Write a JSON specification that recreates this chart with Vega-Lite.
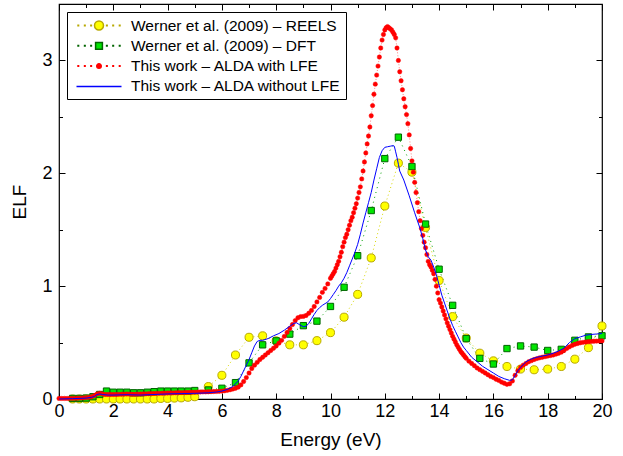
{
  "$schema": "https://vega.github.io/schema/vega-lite/v6.json",
  "width": 543,
  "height": 395,
  "autosize": {"type": "none"},
  "padding": {"left": 59, "top": 4, "right": 21, "bottom": 57},
  "config": {
    "font": "Liberation Sans",
    "view": {"stroke": "#000000", "strokeWidth": 1.2},
    "axis": {"domain": false, "grid": false, "tickColor": "#000000", "labelColor": "#000000", "titleColor": "#000000", "labelFontSize": 18, "titleFontSize": 19, "titleFontWeight": "normal", "tickWidth": 1, "labelFlush": false, "labelOverlap": false}
  },
  "datasets": {
    "reels": [
      {"E":0.5,"v":0.0},{"E":0.75,"v":0.0},{"E":1.0,"v":0.0},{"E":1.25,"v":0.0},{"E":1.5,"v":0.0},{"E":1.75,"v":0.0},{"E":2.0,"v":0.0},{"E":2.25,"v":0.0},{"E":2.5,"v":0.0},{"E":2.75,"v":0.0},{"E":3.0,"v":0.0},{"E":3.25,"v":0.0},{"E":3.5,"v":0.0},{"E":3.75,"v":0.005},{"E":4.0,"v":0.005},{"E":4.25,"v":0.008},{"E":4.5,"v":0.01},{"E":4.75,"v":0.015},{"E":5.0,"v":0.02},
      {"E":5.5,"v":0.11},{"E":6.0,"v":0.21},{"E":6.5,"v":0.39},{"E":7.0,"v":0.547},{"E":7.5,"v":0.56},{"E":8.0,"v":0.515},{"E":8.5,"v":0.48},{"E":9.0,"v":0.48},{"E":9.5,"v":0.517},{"E":10.0,"v":0.588},{"E":10.5,"v":0.725},{"E":11.0,"v":0.927},{"E":11.5,"v":1.25},{"E":12.0,"v":1.71},{"E":12.5,"v":2.09},{"E":13.0,"v":2.01},{"E":13.5,"v":1.52},{"E":14.0,"v":1.05},{"E":14.5,"v":0.73},{"E":15.0,"v":0.54},{"E":15.5,"v":0.406},{"E":16.0,"v":0.338},{"E":16.5,"v":0.288},{"E":17.0,"v":0.265},{"E":17.5,"v":0.259},{"E":18.0,"v":0.265},{"E":18.5,"v":0.288},{"E":19.0,"v":0.353},{"E":19.5,"v":0.455},{"E":20.0,"v":0.647}
    ],
    "dft": [
      {"E":0.5,"v":0.005},{"E":0.75,"v":0.005},{"E":1.0,"v":0.008},{"E":1.25,"v":0.02},{"E":1.5,"v":0.04},{"E":1.75,"v":0.07},{"E":2.0,"v":0.06},{"E":2.25,"v":0.06},{"E":2.5,"v":0.06},{"E":2.75,"v":0.055},{"E":3.0,"v":0.055},{"E":3.25,"v":0.06},{"E":3.5,"v":0.065},{"E":3.75,"v":0.07},{"E":4.0,"v":0.07},{"E":4.25,"v":0.07},{"E":4.5,"v":0.07},{"E":4.75,"v":0.07},{"E":5.0,"v":0.075},
      {"E":5.5,"v":0.08},{"E":6.0,"v":0.095},{"E":6.5,"v":0.145},{"E":7.0,"v":0.32},{"E":7.5,"v":0.48},{"E":8.0,"v":0.515},{"E":8.5,"v":0.575},{"E":9.0,"v":0.65},{"E":9.5,"v":0.69},{"E":10.0,"v":0.82},{"E":10.5,"v":0.99},{"E":11.0,"v":1.27},{"E":11.5,"v":1.67},{"E":12.0,"v":2.13},{"E":12.5,"v":2.32},{"E":13.0,"v":2.06},{"E":13.5,"v":1.55},{"E":14.0,"v":1.15},{"E":14.5,"v":0.83},{"E":15.0,"v":0.535},{"E":15.5,"v":0.36},{"E":16.0,"v":0.31},{"E":16.5,"v":0.447},{"E":17.0,"v":0.47},{"E":17.5,"v":0.46},{"E":18.0,"v":0.43},{"E":18.5,"v":0.44},{"E":19.0,"v":0.52},{"E":19.5,"v":0.55},{"E":20.0,"v":0.56}
    ],
    "lfe": [
      {"E":0.0,"v":0.005},{"E":0.1,"v":0.005},{"E":0.2,"v":0.005},{"E":0.3,"v":0.005},{"E":0.4,"v":0.005},{"E":0.5,"v":0.005},{"E":0.6,"v":0.006},{"E":0.7,"v":0.007},{"E":0.8,"v":0.008},{"E":0.9,"v":0.01},
      {"E":1.0,"v":0.012},{"E":1.1,"v":0.015},{"E":1.2,"v":0.02},{"E":1.3,"v":0.03},{"E":1.4,"v":0.045},{"E":1.5,"v":0.05},{"E":1.6,"v":0.045},{"E":1.7,"v":0.04},{"E":1.8,"v":0.04},{"E":1.9,"v":0.04},
      {"E":2.0,"v":0.04},{"E":2.1,"v":0.04},{"E":2.2,"v":0.041},{"E":2.3,"v":0.042},{"E":2.4,"v":0.043},{"E":2.5,"v":0.044},{"E":2.6,"v":0.043},{"E":2.7,"v":0.042},{"E":2.8,"v":0.042},{"E":2.9,"v":0.043},
      {"E":3.0,"v":0.044},{"E":3.1,"v":0.045},{"E":3.2,"v":0.046},{"E":3.3,"v":0.047},{"E":3.4,"v":0.048},{"E":3.5,"v":0.049},{"E":3.6,"v":0.05},{"E":3.7,"v":0.05},{"E":3.8,"v":0.051},{"E":3.9,"v":0.052},
      {"E":4.0,"v":0.053},{"E":4.1,"v":0.054},{"E":4.2,"v":0.054},{"E":4.3,"v":0.055},{"E":4.4,"v":0.056},{"E":4.5,"v":0.057},{"E":4.6,"v":0.057},{"E":4.7,"v":0.058},{"E":4.8,"v":0.059},{"E":4.9,"v":0.06},
      {"E":5.0,"v":0.06},{"E":5.1,"v":0.061},{"E":5.2,"v":0.062},{"E":5.3,"v":0.063},{"E":5.4,"v":0.063},{"E":5.5,"v":0.064},{"E":5.6,"v":0.065},{"E":5.7,"v":0.066},{"E":5.8,"v":0.067},{"E":5.9,"v":0.068},
      {"E":6.0,"v":0.07},{"E":6.1,"v":0.073},{"E":6.2,"v":0.077},{"E":6.3,"v":0.082},{"E":6.4,"v":0.088},{"E":6.5,"v":0.095},{"E":6.6,"v":0.105},{"E":6.7,"v":0.125},{"E":6.8,"v":0.155},{"E":6.9,"v":0.19},
      {"E":7.0,"v":0.23},{"E":7.1,"v":0.27},{"E":7.2,"v":0.3},{"E":7.3,"v":0.325},{"E":7.4,"v":0.35},{"E":7.5,"v":0.37},{"E":7.6,"v":0.39},{"E":7.7,"v":0.41},{"E":7.8,"v":0.43},{"E":7.9,"v":0.45},
      {"E":8.0,"v":0.47},{"E":8.1,"v":0.495},{"E":8.2,"v":0.52},{"E":8.3,"v":0.555},{"E":8.4,"v":0.59},{"E":8.5,"v":0.625},{"E":8.6,"v":0.66},{"E":8.7,"v":0.695},{"E":8.8,"v":0.72},{"E":8.9,"v":0.73},
      {"E":9.0,"v":0.732},{"E":9.1,"v":0.74},{"E":9.2,"v":0.76},{"E":9.3,"v":0.785},{"E":9.4,"v":0.82},{"E":9.5,"v":0.86},{"E":9.6,"v":0.9},{"E":9.7,"v":0.945},{"E":9.8,"v":0.98},{"E":9.9,"v":1.02},
      {"E":10.0,"v":1.07},{"E":10.05,"v":1.09},{"E":10.1,"v":1.11},{"E":10.15,"v":1.13},{"E":10.2,"v":1.16},{"E":10.25,"v":1.19},{"E":10.3,"v":1.22},{"E":10.35,"v":1.26},{"E":10.4,"v":1.3},{"E":10.45,"v":1.35},
      {"E":10.5,"v":1.39},{"E":10.55,"v":1.43},{"E":10.6,"v":1.46},{"E":10.65,"v":1.5},{"E":10.7,"v":1.54},{"E":10.75,"v":1.58},{"E":10.8,"v":1.61},{"E":10.85,"v":1.65},{"E":10.9,"v":1.69},{"E":10.95,"v":1.73},
      {"E":11.0,"v":1.78},{"E":11.05,"v":1.83},{"E":11.1,"v":1.88},{"E":11.15,"v":1.95},{"E":11.2,"v":2.02},{"E":11.25,"v":2.1},{"E":11.3,"v":2.18},{"E":11.35,"v":2.26},{"E":11.4,"v":2.33},{"E":11.45,"v":2.41},
      {"E":11.5,"v":2.51},{"E":11.55,"v":2.6},{"E":11.6,"v":2.7},{"E":11.65,"v":2.79},{"E":11.7,"v":2.87},{"E":11.75,"v":2.95},{"E":11.8,"v":3.03},{"E":11.85,"v":3.11},{"E":11.9,"v":3.18},{"E":11.95,"v":3.23},
      {"E":12.0,"v":3.27},{"E":12.05,"v":3.29},{"E":12.1,"v":3.3},{"E":12.15,"v":3.29},{"E":12.2,"v":3.28},{"E":12.25,"v":3.27},{"E":12.3,"v":3.25},{"E":12.35,"v":3.23},{"E":12.4,"v":3.2},{"E":12.45,"v":3.11},
      {"E":12.5,"v":3.0},{"E":12.55,"v":2.9},{"E":12.6,"v":2.82},{"E":12.65,"v":2.74},{"E":12.7,"v":2.66},{"E":12.75,"v":2.59},{"E":12.8,"v":2.52},{"E":12.85,"v":2.44},{"E":12.9,"v":2.34},{"E":12.95,"v":2.22},
      {"E":13.0,"v":2.11},{"E":13.05,"v":2.01},{"E":13.1,"v":1.92},{"E":13.15,"v":1.83},{"E":13.2,"v":1.74},{"E":13.25,"v":1.66},{"E":13.3,"v":1.58},{"E":13.35,"v":1.51},{"E":13.4,"v":1.45},{"E":13.45,"v":1.39},
      {"E":13.5,"v":1.34},{"E":13.55,"v":1.28},{"E":13.6,"v":1.22},{"E":13.65,"v":1.19},{"E":13.7,"v":1.17},{"E":13.75,"v":1.14},{"E":13.8,"v":1.11},{"E":13.85,"v":1.06},{"E":13.9,"v":1.0},{"E":13.95,"v":0.94},
      {"E":14.0,"v":0.88},{"E":14.05,"v":0.85},{"E":14.1,"v":0.815},{"E":14.15,"v":0.78},{"E":14.2,"v":0.745},{"E":14.25,"v":0.71},{"E":14.3,"v":0.675},{"E":14.35,"v":0.645},{"E":14.4,"v":0.615},{"E":14.45,"v":0.585},
      {"E":14.5,"v":0.555},{"E":14.55,"v":0.53},{"E":14.6,"v":0.505},{"E":14.65,"v":0.48},{"E":14.7,"v":0.46},{"E":14.75,"v":0.44},{"E":14.8,"v":0.42},{"E":14.85,"v":0.405},{"E":14.9,"v":0.39},{"E":14.95,"v":0.375},
      {"E":15.0,"v":0.36},{"E":15.1,"v":0.335},{"E":15.2,"v":0.315},{"E":15.3,"v":0.295},{"E":15.4,"v":0.275},{"E":15.5,"v":0.26},{"E":15.6,"v":0.245},{"E":15.7,"v":0.23},{"E":15.8,"v":0.215},{"E":15.9,"v":0.2},
      {"E":16.0,"v":0.19},{"E":16.1,"v":0.175},{"E":16.2,"v":0.165},{"E":16.3,"v":0.15},{"E":16.4,"v":0.14},{"E":16.5,"v":0.13},{"E":16.6,"v":0.135},{"E":16.7,"v":0.16},{"E":16.8,"v":0.21},{"E":16.9,"v":0.25},
      {"E":17.0,"v":0.28},{"E":17.1,"v":0.3},{"E":17.2,"v":0.315},{"E":17.3,"v":0.33},{"E":17.4,"v":0.34},{"E":17.5,"v":0.35},{"E":17.6,"v":0.358},{"E":17.7,"v":0.365},{"E":17.8,"v":0.37},{"E":17.9,"v":0.375},
      {"E":18.0,"v":0.38},{"E":18.1,"v":0.385},{"E":18.2,"v":0.39},{"E":18.3,"v":0.397},{"E":18.4,"v":0.405},{"E":18.5,"v":0.415},{"E":18.6,"v":0.43},{"E":18.7,"v":0.448},{"E":18.8,"v":0.462},{"E":18.9,"v":0.475},
      {"E":19.0,"v":0.485},{"E":19.1,"v":0.492},{"E":19.2,"v":0.498},{"E":19.3,"v":0.502},{"E":19.4,"v":0.505},{"E":19.5,"v":0.508},{"E":19.6,"v":0.51},{"E":19.7,"v":0.512},{"E":19.8,"v":0.513},{"E":19.9,"v":0.514},
      {"E":20.0,"v":0.515}
    ],
    "nolfe": [
      {"E":0.0,"v":0.0},{"E":0.5,"v":0.003},{"E":1.0,"v":0.008},{"E":1.2,"v":0.015},{"E":1.3,"v":0.022},{"E":1.4,"v":0.04},{"E":1.5,"v":0.045},{"E":1.6,"v":0.04},{"E":1.8,"v":0.035},{"E":2.0,"v":0.035},{"E":2.5,"v":0.038},{"E":3.0,"v":0.035},{"E":3.5,"v":0.04},{"E":4.0,"v":0.045},{"E":4.5,"v":0.048},{"E":5.0,"v":0.05},{"E":5.5,"v":0.055},{"E":5.8,"v":0.062},{"E":6.0,"v":0.07},{"E":6.2,"v":0.085},{"E":6.4,"v":0.11},{"E":6.6,"v":0.16},{"E":6.7,"v":0.2},{"E":6.8,"v":0.25},{"E":6.9,"v":0.3},{"E":7.0,"v":0.35},{"E":7.1,"v":0.41},{"E":7.2,"v":0.47},{"E":7.3,"v":0.51},{"E":7.4,"v":0.52},{"E":7.5,"v":0.52},{"E":7.7,"v":0.535},{"E":7.9,"v":0.56},{"E":8.1,"v":0.58},{"E":8.3,"v":0.61},{"E":8.5,"v":0.645},{"E":8.65,"v":0.67},{"E":8.75,"v":0.675},{"E":8.85,"v":0.66},{"E":9.0,"v":0.64},{"E":9.1,"v":0.645},{"E":9.2,"v":0.67},{"E":9.3,"v":0.71},{"E":9.4,"v":0.75},{"E":9.5,"v":0.785},{"E":9.6,"v":0.81},{"E":9.7,"v":0.83},{"E":9.8,"v":0.845},{"E":9.9,"v":0.86},{"E":10.0,"v":0.89},{"E":10.1,"v":0.925},{"E":10.2,"v":0.96},{"E":10.3,"v":1.0},{"E":10.4,"v":1.03},{"E":10.5,"v":1.07},{"E":10.6,"v":1.12},{"E":10.7,"v":1.18},{"E":10.8,"v":1.24},{"E":10.9,"v":1.3},{"E":11.0,"v":1.37},{"E":11.1,"v":1.46},{"E":11.2,"v":1.56},{"E":11.3,"v":1.65},{"E":11.4,"v":1.74},{"E":11.5,"v":1.83},{"E":11.6,"v":1.94},{"E":11.7,"v":2.04},{"E":11.8,"v":2.14},{"E":11.9,"v":2.2},{"E":12.0,"v":2.23},{"E":12.1,"v":2.235},{"E":12.2,"v":2.24},{"E":12.3,"v":2.245},{"E":12.35,"v":2.24},{"E":12.4,"v":2.19},{"E":12.45,"v":2.14},{"E":12.5,"v":2.08},{"E":12.55,"v":2.02},{"E":12.7,"v":1.94},{"E":12.9,"v":1.8},{"E":13.1,"v":1.65},{"E":13.3,"v":1.51},{"E":13.4,"v":1.42},{"E":13.5,"v":1.32},{"E":13.6,"v":1.26},{"E":13.7,"v":1.23},{"E":13.8,"v":1.17},{"E":13.9,"v":1.1},{"E":14.0,"v":1.01},{"E":14.1,"v":0.92},{"E":14.2,"v":0.85},{"E":14.3,"v":0.78},{"E":14.4,"v":0.71},{"E":14.5,"v":0.65},{"E":14.6,"v":0.6},{"E":14.7,"v":0.55},{"E":14.8,"v":0.5},{"E":14.9,"v":0.46},{"E":15.0,"v":0.43},{"E":15.2,"v":0.37},{"E":15.4,"v":0.33},{"E":15.6,"v":0.29},{"E":15.8,"v":0.26},{"E":16.0,"v":0.23},{"E":16.2,"v":0.2},{"E":16.4,"v":0.18},{"E":16.6,"v":0.165},{"E":16.7,"v":0.17},{"E":16.8,"v":0.21},{"E":16.9,"v":0.25},{"E":17.0,"v":0.28},{"E":17.2,"v":0.33},{"E":17.4,"v":0.355},{"E":17.6,"v":0.37},{"E":17.8,"v":0.38},{"E":18.0,"v":0.39},{"E":18.2,"v":0.405},{"E":18.4,"v":0.425},{"E":18.6,"v":0.45},{"E":18.8,"v":0.5},{"E":19.0,"v":0.535},{"E":19.2,"v":0.55},{"E":19.4,"v":0.565},{"E":19.6,"v":0.572},{"E":19.8,"v":0.576},{"E":20.0,"v":0.58}
    ]
  },
  "resolve": {"axis": {"x": "independent", "y": "independent"}},
  "layer": [
    {
      "data": {"name": "reels"},
      "mark": {"type": "line", "color": "#d8d800", "strokeWidth": 1, "strokeDash": [1, 3]},
      "encoding": {
        "x": {"field": "E", "type": "quantitative", "scale": {"domain": [0, 20], "nice": false, "zero": false},
              "axis": {"orient": "bottom", "values": [0,2,4,6,8,10,12,14,16,18,20], "tickSize": -6, "labelPadding": 9, "title": "Energy (eV)", "titlePadding": 10}},
        "y": {"field": "v", "type": "quantitative", "scale": {"domain": [0, 3.5], "nice": false, "zero": false},
              "axis": {"orient": "left", "values": [0,1,2,3], "tickSize": -6, "labelPadding": 13, "title": "ELF", "titlePadding": 12}}
      }
    },
    {
      "data": {"name": "dft"},
      "mark": {"type": "line", "color": "#00a000", "strokeWidth": 1, "strokeDash": [1, 4]},
      "encoding": {
        "x": {"field": "E", "type": "quantitative", "axis": {"orient": "bottom", "values": [1,3,5,7,9,11,13,15,17,19], "tickSize": -3.5, "labels": false, "title": null}},
        "y": {"field": "v", "type": "quantitative", "axis": {"orient": "left", "values": [0.5,1.5,2.5], "tickSize": -3.5, "labels": false, "title": null}}
      }
    },
    {
      "data": {"name": "lfe"},
      "mark": {"type": "line", "color": "#ff0000", "strokeWidth": 1, "strokeDash": [1, 2], "opacity": 0.5},
      "encoding": {
        "x": {"field": "E", "type": "quantitative", "axis": {"orient": "top", "values": [0,2,4,6,8,10,12,14,16,18,20], "tickSize": -6, "labels": false, "title": null}},
        "y": {"field": "v", "type": "quantitative", "axis": {"orient": "right", "values": [0,1,2,3], "tickSize": -6, "labels": false, "title": null}}
      }
    },
    {
      "data": {"name": "reels"},
      "mark": {"type": "point", "filled": true, "shape": "circle", "size": 65, "fill": "#ffff00", "stroke": "#b8a800", "strokeWidth": 1, "opacity": 1},
      "encoding": {
        "x": {"field": "E", "type": "quantitative", "axis": null},
        "y": {"field": "v", "type": "quantitative", "axis": null}
      }
    },
    {
      "data": {"name": "dft"},
      "mark": {"type": "point", "filled": true, "shape": "square", "size": 40, "fill": "#00e600", "stroke": "#006400", "strokeWidth": 1, "opacity": 1},
      "encoding": {
        "x": {"field": "E", "type": "quantitative", "axis": null},
        "y": {"field": "v", "type": "quantitative", "axis": null}
      }
    },
    {
      "data": {"name": "lfe"},
      "mark": {"type": "point", "filled": true, "shape": "circle", "size": 19, "fill": "#ff0000", "stroke": "#ff0000", "strokeWidth": 0.5, "opacity": 1},
      "encoding": {
        "x": {"field": "E", "type": "quantitative", "axis": {"orient": "top", "values": [1,3,5,7,9,11,13,15,17,19], "tickSize": -3.5, "labels": false, "title": null}},
        "y": {"field": "v", "type": "quantitative", "axis": {"orient": "right", "values": [0.5,1.5,2.5], "tickSize": -3.5, "labels": false, "title": null}}
      }
    },
    {
      "data": {"name": "nolfe"},
      "mark": {"type": "line", "color": "#0000ff", "strokeWidth": 1},
      "encoding": {
        "x": {"field": "E", "type": "quantitative", "axis": null},
        "y": {"field": "v", "type": "quantitative", "axis": null}
      }
    },
    {
      "data": {"name": "reels"},
      "transform": [{"filter": "datum.E < 0"}],
      "mark": {"type": "point", "filled": true, "strokeWidth": 1, "opacity": 1},
      "encoding": {
        "x": {"field": "E", "type": "quantitative", "axis": null},
        "y": {"field": "v", "type": "quantitative", "axis": null},
        "fill": {"datum": "Werner et al. (2009) – REELS", "type": "nominal",
                 "scale": {"domain": ["Werner et al. (2009) – REELS", "Werner et al. (2009) – DFT", "This work – ALDA with LFE", "This work – ALDA without LFE"], "range": ["#ffff00", "#00e600", "#ff0000", "#0000ff"]},
                 "legend": {"orient": "top-left", "offset": 8, "title": null, "strokeColor": "#000000", "fillColor": "#ffffff", "padding": 4, "labelFontSize": 15.5, "labelColor": "#000000", "labelLimit": 400, "rowPadding": 2.3, "labelOffset": 22.5, "symbolOffset": 18.5, "cornerRadius": 0}},
        "stroke": {"datum": "Werner et al. (2009) – REELS", "type": "nominal",
                   "scale": {"domain": ["Werner et al. (2009) – REELS", "Werner et al. (2009) – DFT", "This work – ALDA with LFE", "This work – ALDA without LFE"], "range": ["#b8a800", "#006400", "#ff0000", "#0000ff"]}},
        "shape": {"datum": "Werner et al. (2009) – REELS", "type": "nominal",
                  "scale": {"domain": ["Werner et al. (2009) – REELS", "Werner et al. (2009) – DFT", "This work – ALDA with LFE", "This work – ALDA without LFE"],
                            "range": [
                              "M-0.529,0A0.529,0.529,0,1,0,0.529,0A0.529,0.529,0,1,0,-0.529,0ZM-2.467,-0.032h0.064v0.064h-0.064ZM-1.699,-0.032h0.064v0.064h-0.064ZM-0.958,-0.032h0.064v0.064h-0.064ZM0.894,-0.032h0.064v0.064h-0.064ZM1.635,-0.032h0.064v0.064h-0.064ZM2.403,-0.032h0.064v0.064h-0.064Z",
                              "M-0.4,-0.4H0.4V0.4H-0.4ZM-2.467,-0.032h0.064v0.064h-0.064ZM-1.699,-0.032h0.064v0.064h-0.064ZM-0.958,-0.032h0.064v0.064h-0.064ZM0.894,-0.032h0.064v0.064h-0.064ZM1.635,-0.032h0.064v0.064h-0.064ZM2.403,-0.032h0.064v0.064h-0.064Z",
                              "M-0.265,0A0.265,0.265,0,1,0,0.265,0A0.265,0.265,0,1,0,-0.265,0ZM-2.467,-0.032h0.064v0.064h-0.064ZM-1.699,-0.032h0.064v0.064h-0.064ZM-0.958,-0.032h0.064v0.064h-0.064ZM0.894,-0.032h0.064v0.064h-0.064ZM1.635,-0.032h0.064v0.064h-0.064ZM2.403,-0.032h0.064v0.064h-0.064Z",
                              "M-2.647,0H2.647"
                            ]}},
        "size": {"datum": "Werner et al. (2009) – REELS", "type": "nominal",
                 "scale": {"type": "ordinal", "domain": ["Werner et al. (2009) – REELS", "Werner et al. (2009) – DFT", "This work – ALDA with LFE", "This work – ALDA without LFE"], "range": [289, 289, 289, 289]}}
      }
    }
  ]
}
